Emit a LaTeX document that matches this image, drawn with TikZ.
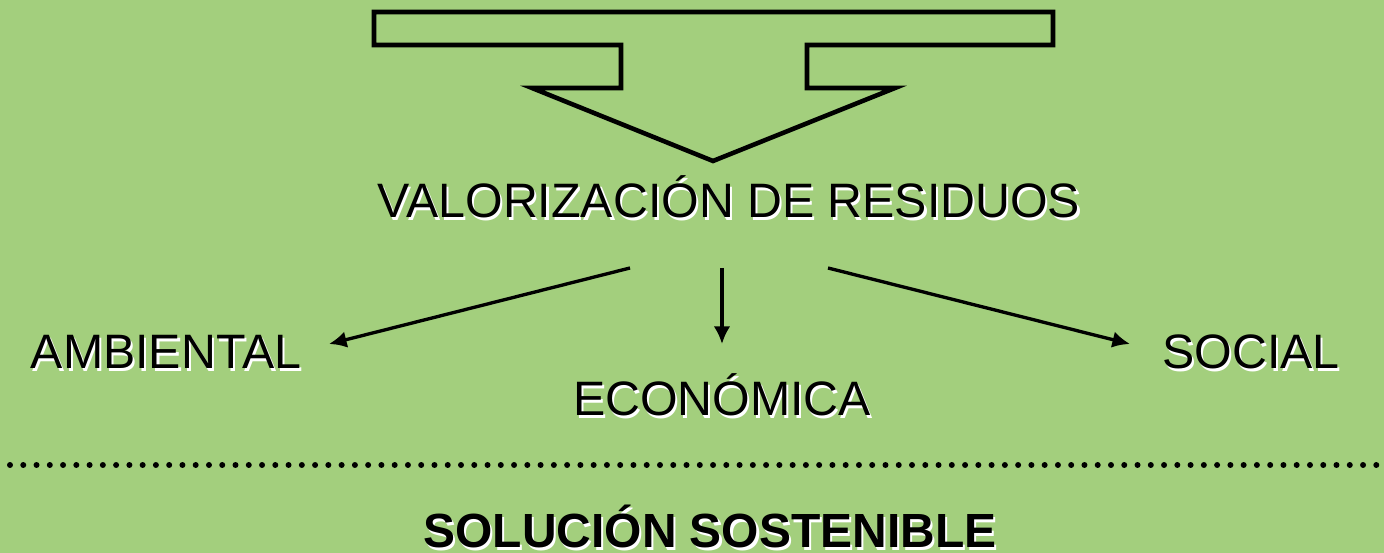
\documentclass[tikz,border=0pt]{standalone}
\usepackage{fontspec}
\setmainfont{Liberation Sans}
\usetikzlibrary{arrows.meta}
\definecolor{fondo}{RGB}{163,207,125}
% texto con sombra blanca
\newcommand{\sombra}[1]{\makebox[0pt][l]{\hspace{1.2pt}\raisebox{-1.2pt}{\color{white}#1}}#1}

\begin{document}
\begin{tikzpicture}[x=0.02cm, y=-0.02cm,
    etiqueta/.style={inner sep=0pt, anchor=base, font=\fontsize{27.5}{32}\selectfont},
    flecha/.style={line width=1.9pt, -{Latex[length=10pt, width=9.5pt]}},
    punteado/.style={line width=3.4pt, line cap=round, dash pattern=on 0pt off 7.55pt}]
  \fill[fondo] (0,0) rectangle (1384,553);
  \useasboundingbox (0,0) rectangle (1384,553);
  % flecha grande
  \draw[line width=2.6pt]
    (374,12) -- (1053,12) -- (1053,45) -- (807,45) -- (807,88) -- (895,88)
    -- (713,161) -- (532,88) -- (621,88) -- (621,45) -- (374,45) -- cycle;
  \node[etiqueta] (valor) at (729,218) {\sombra{VALORIZACIÓN DE RESIDUOS}};
  \node[etiqueta] (amb) at (166,369) {\sombra{AMBIENTAL}};
  \node[etiqueta] (eco) at (722,416) {\sombra{ECONÓMICA}};
  \node[etiqueta] (soc) at (1251,369) {\sombra{SOCIAL}};
  \node[etiqueta, font=\fontsize{27.3}{32}\selectfont\bfseries] (sol) at (710,548) {\sombra{SOLUCIÓN SOSTENIBLE}};
  \coordinate (s1) at (630,268);
  \coordinate (s2) at (722,268);
  \coordinate (s3) at (828,268);
  \coordinate (t1) at (329,344);
  \coordinate (t2) at (722,344);
  \coordinate (t3) at (1130,344);
  \draw[flecha] (s1) -- (t1);
  \draw[flecha] (s2) -- (t2);
  \draw[flecha] (s3) -- (t3);
  \coordinate (p1) at (10,465);
  \coordinate (p2) at (1384,465);
  \draw[punteado] (p1) -- (p2);
\end{tikzpicture}
\end{document}
